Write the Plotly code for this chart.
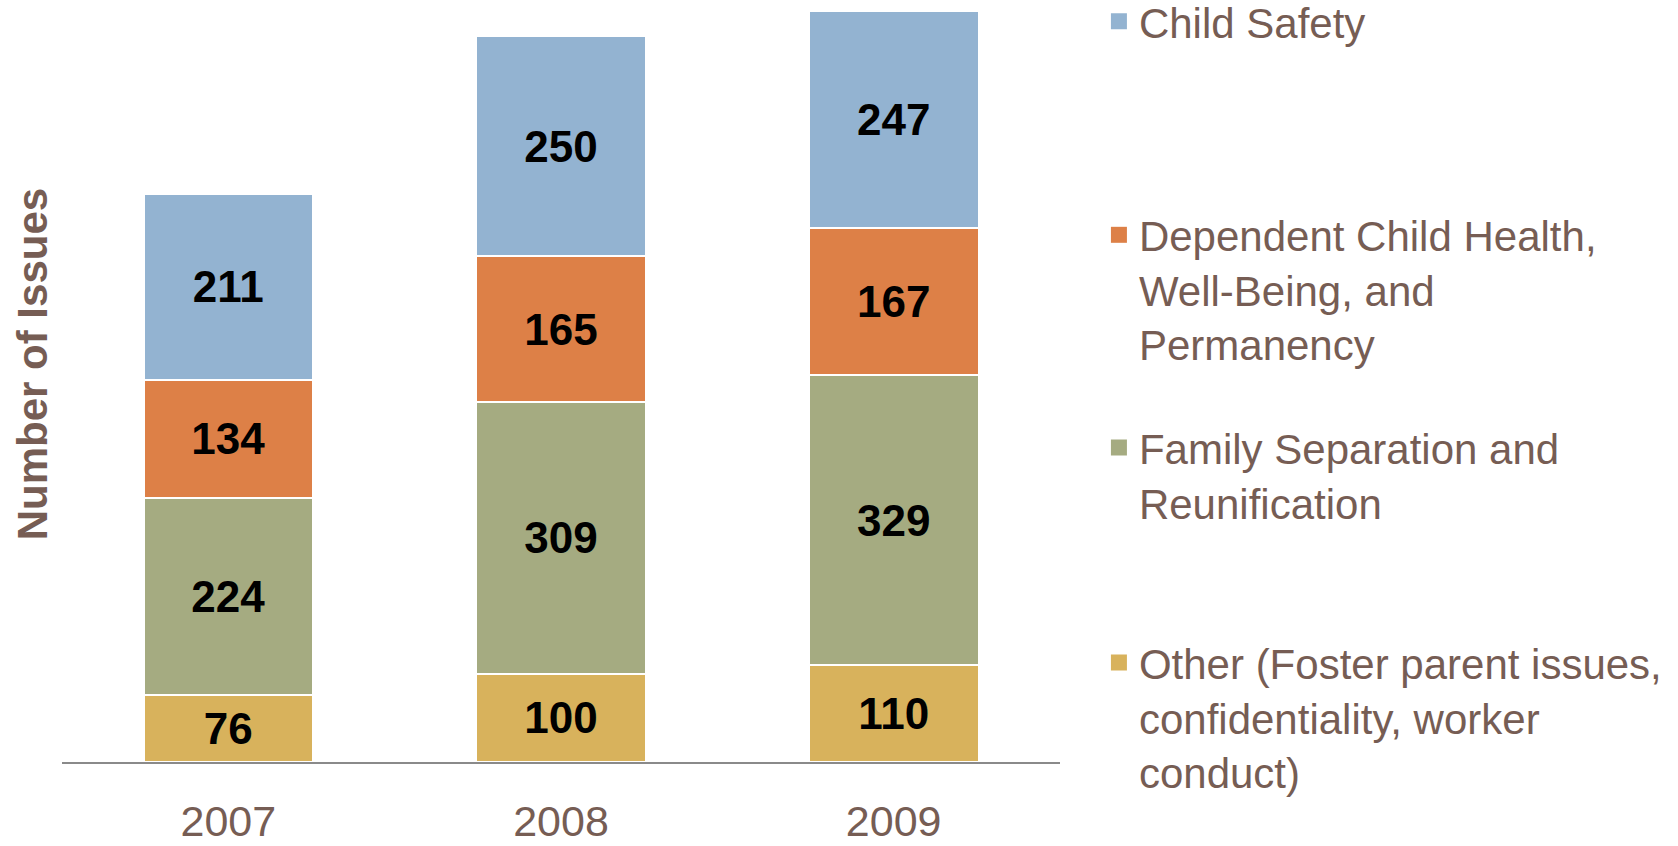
import plotly.graph_objects as go

years = ["2007", "2008", "2009"]
other = [76, 100, 110]
family = [224, 309, 329]
dependent = [134, 165, 167]
safety = [211, 250, 247]

names = [
    "Other (Foster parent issues,<br>confidentiality, worker<br>conduct)",
    "Family Separation and<br>Reunification",
    "Dependent Child Health,<br>Well-Being, and<br>Permanency",
    "Child Safety",
]
colors = ["#D8B25C", "#A5AB81", "#DD8047", "#93B3D1"]
series = [other, family, dependent, safety]

brown = "#765D54"
font = "Liberation Sans"

fig = go.Figure()
for vals, col in zip(series, colors):
    fig.add_trace(go.Bar(
        x=years, y=vals,
        marker=dict(color=col, line=dict(color="white", width=2)),
        text=vals, textposition="inside", insidetextanchor="middle",
        textangle=0, constraintext="none",
        textfont=dict(family=font, size=44, color="black", weight="bold"),
        showlegend=False, hoverinfo="skip",
    ))

# legend entries: one legend per series so they can be spaced like the original
legend_tops = [1.0164, 0.7362, 0.457, 0.1749]
for i, (name, col) in enumerate(zip(names[::-1], colors[::-1])):
    lg = "legend" if i == 0 else "legend%d" % (i + 1)
    fig.add_trace(go.Scatter(
        x=[None], y=[None], mode="markers", name=name,
        marker=dict(symbol="square", size=16, color=col),
        legend=lg, showlegend=True,
    ))
    fig.update_layout({lg: dict(
        x=1.039, xanchor="left", y=legend_tops[i], yanchor="top",
        valign="top", itemsizing="trace", bgcolor="rgba(0,0,0,0)",
        font=dict(family=font, size=42, color=brown),
    )})

fig.add_annotation(
    text="<b>Number of Issues</b>", textangle=-90,
    xref="paper", yref="paper", x=-0.030, y=0.522,
    xanchor="center", yanchor="middle",
    showarrow=False, font=dict(family=font, size=42, color=brown),
)

fig.update_layout(
    barmode="stack", bargap=0.49,
    width=1678, height=846,
    margin=dict(l=62, r=618, t=0, b=84, autoexpand=False),
    plot_bgcolor="white", paper_bgcolor="white",
    font=dict(family=font, color=brown),
    xaxis=dict(showline=True, linecolor="#8A8A8A", linewidth=2,
               ticks="", tickfont=dict(family=font, size=43, color=brown),
               ticklabelstandoff=20, showgrid=False, automargin=False),
    yaxis=dict(range=[0, 865], visible=False, showgrid=False),
)

fig.write_html("out.html", config={"displayModeBar": False})
with open("out.html") as f:
    html = f.read()
html = html.replace("<body>", '<body style="margin:0;overflow:hidden">', 1)
with open("out.html", "w") as f:
    f.write(html)
